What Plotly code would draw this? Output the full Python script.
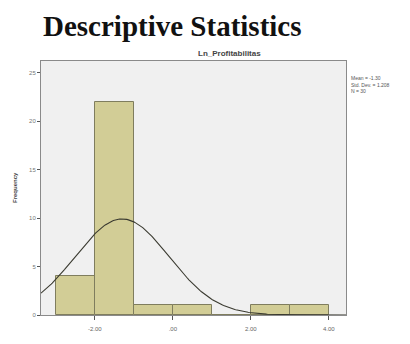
import numpy as np
import plotly.graph_objects as go

# Histogram of Ln_Profitabilitas (bins of width 1)
bin_left = [-3, -2, -1, 0, 1, 2, 3]
frequency = [4, 22, 1, 1, 0, 1, 1]
bin_width = 1.0

mean_val = -1.30
std_val = 1.208
n_obs = 30

x_ticks = [-2, 0, 2, 4]
x_tick_text = ["-2.00", ".00", "2.00", "4.00"]
y_ticks = [0, 5, 10, 15, 20, 25]

bar_fill = "#d2cd96"
bar_line = "#7f7d5e"
axis_grey = "#8a8a8a"

fig = go.Figure()

centers = [b + bin_width / 2 for b in bin_left]
fig.add_trace(go.Bar(
    x=centers, y=frequency, width=bin_width,
    marker=dict(color=bar_fill, line=dict(color=bar_line, width=1)),
    showlegend=False, hoverinfo="skip",
))

# Fitted normal curve scaled to counts
xr = (-3.38, 4.44)
xs = np.linspace(xr[0], xr[1], 300)
ys = n_obs * bin_width / (std_val * np.sqrt(2 * np.pi)) * np.exp(-0.5 * ((xs - mean_val) / std_val) ** 2)
fig.add_trace(go.Scatter(
    x=xs, y=ys, mode="lines",
    line=dict(color="#3a3a30", width=1.1),
    showlegend=False, hoverinfo="skip",
))

fig.update_xaxes(
    range=list(xr), tickvals=x_ticks, ticktext=x_tick_text,
    showgrid=False, zeroline=False,
    showline=True, linecolor=axis_grey, linewidth=1, mirror=True,
    ticks="outside", ticklen=4, tickcolor="#555555", ticklabelstandoff=4,
    tickfont=dict(family="Arial", size=6, color="#666666"),
)
fig.update_yaxes(
    range=[0, 26.2], tickvals=y_ticks,
    showgrid=False, zeroline=False,
    showline=True, linecolor=axis_grey, linewidth=1, mirror=True,
    ticks="outside", ticklen=3, tickcolor="#555555",
    tickfont=dict(family="Arial", size=6, color="#777777"),
)

annotations = [
    dict(text="<b>Descriptive Statistics</b>", xref="paper", yref="paper",
         x=0.0, y=(329 - 24) / 268, xanchor="left", yanchor="middle",
         showarrow=False, font=dict(family="Liberation Serif", size=29, color="#111111")),
    dict(text="<b>Ln_Profitabilitas</b>", xref="paper", yref="paper",
         x=(229 - 41) / 305, y=(329 - 53) / 268, xanchor="center", yanchor="middle",
         showarrow=False, font=dict(family="Arial", size=8, color="#444444")),
    dict(text="<b>Frequency</b>", xref="paper", yref="paper",
         x=(15 - 41) / 305, y=(329 - 195) / 268, xanchor="center", yanchor="middle",
         textangle=-90, showarrow=False, font=dict(family="Arial", size=6, color="#444444")),
    dict(text=f"Mean = {mean_val:.2f}<br>Std. Dev. = {std_val:.3f}<br>N = {n_obs}",
         xref="paper", yref="paper", x=(349 - 41) / 305, y=(329 - 74) / 268,
         xanchor="left", yanchor="top", align="left", showarrow=False,
         font=dict(family="Arial", size=5, color="#555555")),
]

fig.update_layout(
    width=410, height=344,
    margin=dict(l=41, r=64, t=61, b=15),
    paper_bgcolor="white", plot_bgcolor="#f0f0f0",
    bargap=0, annotations=annotations,
)

fig.write_html("out.html")
